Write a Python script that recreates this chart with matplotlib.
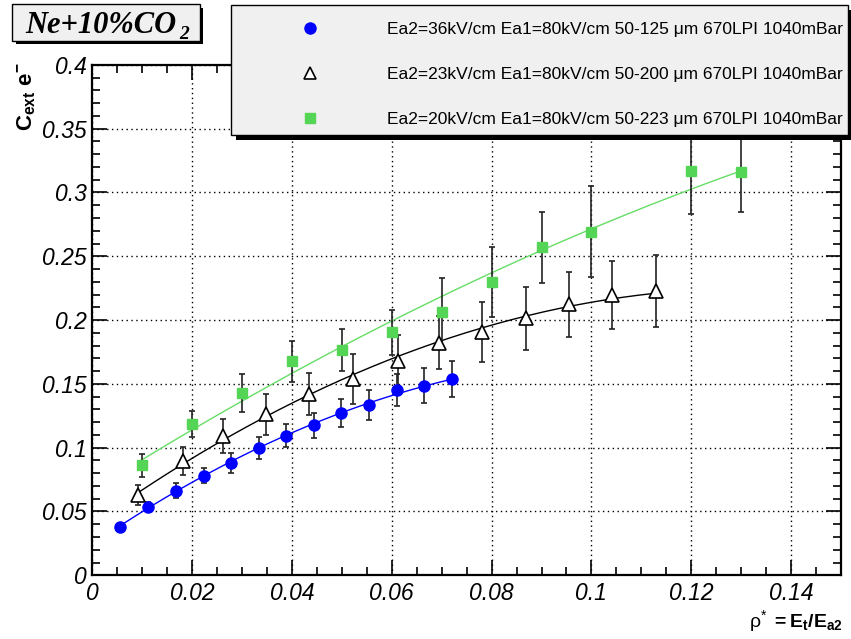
import numpy as np
import matplotlib.pyplot as plt
from matplotlib.patches import Rectangle
from matplotlib.lines import Line2D
from matplotlib.ticker import MultipleLocator, FuncFormatter

plt.rcParams['font.family'] = ['Liberation Sans', 'DejaVu Sans']
plt.rcParams['mathtext.fontset'] = 'custom'
plt.rcParams['mathtext.rm'] = 'Liberation Sans'
plt.rcParams['mathtext.it'] = 'Liberation Sans:italic'
plt.rcParams['mathtext.bf'] = 'Liberation Sans:bold'

# data
x_36 = [0.0055, 0.0112, 0.0167, 0.0223, 0.0278, 0.0334, 0.0389, 0.0445, 0.0499, 0.0555, 0.0610, 0.0665, 0.0721]
y_36 = [0.0381, 0.0538, 0.0663, 0.0781, 0.0882, 0.0995, 0.1094, 0.1176, 0.1274, 0.1335, 0.1453, 0.1486, 0.1536]
e_36 = [0.003, 0.004, 0.0059, 0.0061, 0.0077, 0.0086, 0.0091, 0.0099, 0.011, 0.0119, 0.0128, 0.0138, 0.0142]

x_23 = [0.0092, 0.0181, 0.0261, 0.0349, 0.0434, 0.0522, 0.0613, 0.0695, 0.0781, 0.0869, 0.0955, 0.1041, 0.1129]
y_23 = [0.0629, 0.0896, 0.1094, 0.1262, 0.1421, 0.1538, 0.1682, 0.1823, 0.1904, 0.2014, 0.2124, 0.2194, 0.2230]
e_23 = [0.0081, 0.011, 0.0133, 0.0159, 0.0163, 0.0198, 0.020, 0.021, 0.0235, 0.0245, 0.0255, 0.0266, 0.0281]

x_20 = [0.01, 0.02, 0.03, 0.04, 0.05, 0.06, 0.07, 0.08, 0.09, 0.10, 0.12, 0.13]
y_20 = [0.0862, 0.1183, 0.1431, 0.1679, 0.1766, 0.1904, 0.2061, 0.2301, 0.2571, 0.2693, 0.3171, 0.3161]
e_20 = [0.0088, 0.0101, 0.0148, 0.0161, 0.0167, 0.0176, 0.0271, 0.0274, 0.0277, 0.0358, 0.034, 0.0316]

labels = ['Ea2=36kV/cm Ea1=80kV/cm 50-125 \u03bcm 670LPI 1040mBar',
          'Ea2=23kV/cm Ea1=80kV/cm 50-200 \u03bcm 670LPI 1040mBar',
          'Ea2=20kV/cm Ea1=80kV/cm 50-223 \u03bcm 670LPI 1040mBar']

W, H = 851, 639
fig = plt.figure(figsize=(W / 100, H / 100), dpi=100)
ax = fig.add_axes([92.3 / W, 1 - 575.3 / H, (841 - 92.3) / W, (575.3 - 64.9) / H])

blue = '#0000ff'
green = '#55d555'

# weighted quadratic fits, like the fitted curves on the original
def fitline(x, y, e, col):
    p = np.polyfit(x, y, 2, w=1 / np.array(e))
    xx = np.linspace(min(x), max(x), 200)
    ax.plot(xx, np.polyval(p, xx), color=col, lw=1, zorder=2)

fitline(x_20, y_20, e_20, '#66dd66')
fitline(x_23, y_23, e_23, 'black')
fitline(x_36, y_36, e_36, blue)

eb = dict(ls='none', ecolor='#222222', elinewidth=1.2, capsize=2, capthick=1.2, zorder=3)
ax.errorbar(x_20, y_20, yerr=e_20, marker='s', ms=7.5, mfc=green, mec=green, **eb)
ax.errorbar(x_23, y_23, yerr=e_23, marker='^', ms=10, mfc='white', mec='black', mew=1.2, **eb)
ax.errorbar(x_36, y_36, yerr=e_36, marker='o', ms=8, mfc=blue, mec=blue, **eb)

ax.set_xlim(0, 0.15)
ax.set_ylim(0, 0.4)
ax.xaxis.set_major_locator(MultipleLocator(0.02))
ax.xaxis.set_minor_locator(MultipleLocator(0.005))
ax.yaxis.set_major_locator(MultipleLocator(0.05))
ax.yaxis.set_minor_locator(MultipleLocator(0.01))
fmt = FuncFormatter(lambda v, p: ('%.2f' % v).rstrip('0').rstrip('.') if abs(v) > 1e-9 else '0')
ax.xaxis.set_major_formatter(fmt)
ax.yaxis.set_major_formatter(fmt)
ax.tick_params(which='both', direction='in', top=True, right=True, width=1.2)
ax.tick_params(which='major', length=11)
ax.tick_params(which='minor', length=5.5)
ax.tick_params(axis='x', pad=5)
ax.tick_params(axis='y', pad=4)
for lab in ax.get_xticklabels() + ax.get_yticklabels():
    lab.set_fontsize(16.5)
    lab.set_fontstyle('italic')
ax.grid(True, which='major', color='black', ls=(0, (1, 2.5)), lw=1)
for s in ax.spines.values():
    s.set_linewidth(1.6)

# y and x titles
fig.text(27 / W, 1 - 62 / H, r'$\mathbf{C_{ext}\ e^{-}}$', rotation=90, ha='center', va='top', fontsize=16)
fig.text(843 / W, 1 - 627 / H, '\u03c1$^{*}$ $\\mathbf{= E_{t}/E_{a2}}$', ha='right', va='baseline', fontsize=14)

def box(x0, y0, x1, y1, **kw):
    fig.add_artist(Rectangle((x0 / W, 1 - y1 / H), (x1 - x0) / W, (y1 - y0) / H,
                             transform=fig.transFigure, **kw))

# title box with shadow
box(16, 8, 203, 44, facecolor='black', edgecolor='none')
box(12, 4, 200, 41, facecolor='#f0f0f0', edgecolor='black', lw=1)
t = fig.text(25 / W, 1 - 33 / H, 'Ne+10%CO', family='Liberation Serif', weight='bold', style='italic', fontsize=22)
fig.canvas.draw()
bb = t.get_window_extent()
fig.text(bb.x1 / W + 3 / W, 1 - 39 / H, '2', family='Liberation Serif', weight='bold', style='italic', fontsize=14)

# legend box with shadow
box(236, 10, 851, 140, facecolor='black', edgecolor='none')
box(231, 5, 848, 135, facecolor='#f0f0f0', edgecolor='black', lw=1)
handles = [Line2D([], [], ls='none', marker='o', ms=8, mfc=blue, mec=blue),
           Line2D([], [], ls='none', marker='^', ms=9, mfc='white', mec='black', mew=1.2),
           Line2D([], [], ls='none', marker='s', ms=7.5, mfc=green, mec=green)]
fs = 12.5
em = fs * 100 / 72
leg = fig.legend(handles, labels, loc='upper left', frameon=False, fontsize=fs,
                 bbox_to_anchor=((310 - em) / W, 1 - 22 / H), bbox_transform=fig.transFigure,
                 borderpad=0, borderaxespad=0, handlelength=2, handletextpad=(387 - 310 - em) / em,
                 labelspacing=1.72, numpoints=1)

fig.savefig('out.png', dpi=100)
